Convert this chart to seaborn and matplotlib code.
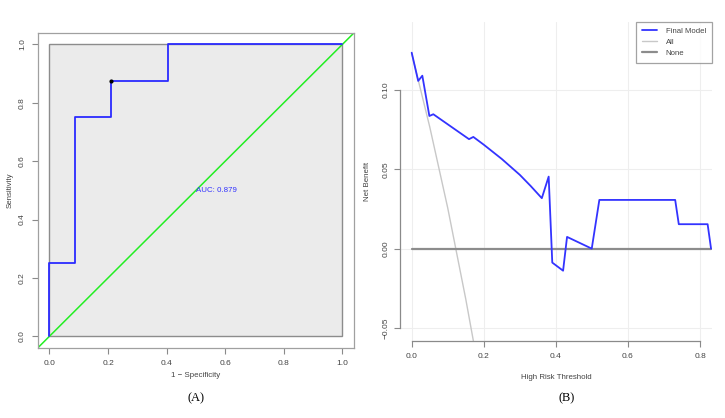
import matplotlib
matplotlib.use("Agg")
import matplotlib.pyplot as plt
import seaborn as sns
import pandas as pd
from matplotlib.lines import Line2D
from matplotlib.patches import Rectangle

sns.set_theme(style="white")
plt.rcParams['font.family'] = ['Liberation Sans', 'DejaVu Sans']

# ---- Panel A: ROC curve data ----
roc_fpr = [0.0, 0.0, 0.088, 0.088, 0.21, 0.21, 0.404, 0.404, 1.0]
roc_tpr = [0.0, 0.25, 0.25, 0.75, 0.75, 0.875, 0.875, 1.0, 1.0]
best_point = (0.21, 0.875)
auc_label = "AUC: 0.879"
roc_ticks = [0.0, 0.2, 0.4, 0.6, 0.8, 1.0]

# ---- Panel B: decision curve data ----
dca_thresh = [0.0, 0.018, 0.0295, 0.049, 0.06, 0.159, 0.171, 0.2, 0.25, 0.3, 0.33,
              0.361, 0.38, 0.39, 0.42, 0.431, 0.4995, 0.5206, 0.731, 0.741, 0.821, 0.8305]
dca_model = [0.1235, 0.1057, 0.109, 0.0836, 0.0847, 0.069, 0.0704, 0.0655, 0.0565, 0.0465, 0.0395,
             0.0318, 0.0454, -0.0088, -0.0139, 0.0074, 0.0, 0.0307, 0.0307, 0.0154, 0.0154, 0.0]
all_thresh = [0.0, 0.05, 0.1, 0.15, 0.171, 0.19]
all_nb = [0.123, 0.0768, 0.0256, -0.0318, -0.058, -0.083]
none_thresh = [0.0, 0.8305]
none_nb = [0.0, 0.0]
dca_xticks = [0.0, 0.2, 0.4, 0.6, 0.8]
dca_yticks = [-0.05, 0.00, 0.05, 0.10]

fig = plt.figure(figsize=(7.25, 4.18), dpi=100)
fig.patch.set_facecolor("white")

axis_gray = "#8a8a8a"
text_gray = "#444444"
fs = 6.0
lab_fs = 5.7

# ---------------- Panel A ----------------
axA = fig.add_axes([0.052, 0.1675, 0.4365, 0.7543])
axA.set_xlim(-0.04, 1.04)
axA.set_ylim(-0.04, 1.04)
axA.add_patch(Rectangle((0, 0), 1, 1, facecolor="#ebebeb", edgecolor="#8c8c8c", lw=1.0, zorder=0))
# diagonal reference
axA.plot([-0.04, 1.04], [-0.04, 1.04], color="#22ee22", lw=1.1, zorder=2)
roc_df = pd.DataFrame({"fpr": roc_fpr, "tpr": roc_tpr})
sns.lineplot(data=roc_df, x="fpr", y="tpr", sort=False, estimator=None, color="#2b2bff",
             lw=1.3, ax=axA, zorder=3)
axA.plot([best_point[0]], [best_point[1]], 'o', color="black", ms=2.0, zorder=4)
axA.text(0.5, 0.51, auc_label, color="#3333ff", fontsize=5.7, ha="left", va="top")
axA.set_xticks(roc_ticks)
axA.set_yticks(roc_ticks)
axA.set_xticklabels([f"{t:.1f}" for t in roc_ticks])
axA.set_yticklabels([f"{t:.1f}" for t in roc_ticks], rotation=90, va="center")
axA.tick_params(axis="both", direction="out", length=4.5, width=0.8, color=axis_gray,
                labelsize=fs, labelcolor=text_gray, pad=4, left=True, bottom=True)
for s in axA.spines.values():
    s.set_color("#a0a0a0")
    s.set_linewidth(0.9)
axA.set_xlabel("1 \u2212 Specificity", fontsize=lab_fs, color=text_gray, labelpad=4)
axA.set_ylabel("Sensitivity", fontsize=lab_fs, color=text_gray, labelpad=3.5)
fig.text(196 / 725, 1 - 398 / 418, "(A)", family=["Liberation Serif", "DejaVu Serif"],
         fontsize=9, ha="center", va="center", color="black")

# ---------------- Panel B ----------------
axB = fig.add_axes([0.5517, 0.185, 0.43, 0.763])
axB.set_xlim(-0.0325, 0.8324)
axB.set_ylim(-0.058, 0.143)
for xv in dca_xticks:
    axB.axvline(xv, color="#eeeeee", lw=0.8, zorder=0)
for yv in dca_yticks:
    axB.axhline(yv, color="#eeeeee", lw=0.8, zorder=0)

all_df = pd.DataFrame({"t": all_thresh, "nb": all_nb})
none_df = pd.DataFrame({"t": none_thresh, "nb": none_nb})
model_df = pd.DataFrame({"t": dca_thresh, "nb": dca_model})
sns.lineplot(data=all_df, x="t", y="nb", sort=False, estimator=None, color="#c8c8c8", lw=1.0, ax=axB, zorder=2)
sns.lineplot(data=none_df, x="t", y="nb", sort=False, estimator=None, color="#8c8c8c", lw=1.6, ax=axB, zorder=2)
sns.lineplot(data=model_df, x="t", y="nb", sort=False, estimator=None, color="#3333ff", lw=1.3, ax=axB, zorder=3)

axB.set_xticks(dca_xticks)
axB.set_yticks(dca_yticks)
axB.set_xticklabels([f"{t:.1f}" for t in dca_xticks])
axB.set_yticklabels([f"{t:.2f}".replace("-", "\u2212") for t in dca_yticks], rotation=90, va="center")
axB.tick_params(axis="both", direction="out", length=4, width=0.8, color=axis_gray,
                labelsize=fs, labelcolor=text_gray, left=True, bottom=True)
axB.tick_params(axis="x", pad=5)
axB.tick_params(axis="y", pad=3.5)
axB.spines["top"].set_visible(False)
axB.spines["right"].set_visible(False)
axB.spines["left"].set_bounds(-0.05, 0.10)
axB.spines["bottom"].set_bounds(0.0, 0.8)
for k in ("left", "bottom"):
    axB.spines[k].set_color(axis_gray)
    axB.spines[k].set_linewidth(0.9)
axB.set_xlabel("High Risk Threshold", fontsize=lab_fs, color=text_gray, labelpad=10)
axB.set_ylabel("Net Benefit", fontsize=lab_fs, color=text_gray, labelpad=8)

handles = [Line2D([], [], color="#3333ff", lw=1.3),
           Line2D([], [], color="#c8c8c8", lw=1.0),
           Line2D([], [], color="#8c8c8c", lw=1.6)]
leg = axB.legend(handles, ["Final Model", "All", "None"], loc="upper right", fontsize=5.6,
                 frameon=True, fancybox=False, borderaxespad=0, handlelength=2.0,
                 labelspacing=0.45, borderpad=0.75, handletextpad=1.1)
leg.get_frame().set_edgecolor("#8c8c8c")
leg.get_frame().set_linewidth(0.9)
for t in leg.get_texts():
    t.set_color(text_gray)
fig.text(566.7 / 725, 1 - 398 / 418, "(B)", family=["Liberation Serif", "DejaVu Serif"],
         fontsize=9, ha="center", va="center", color="black")

fig.savefig("out.png", dpi=100, facecolor="white")
